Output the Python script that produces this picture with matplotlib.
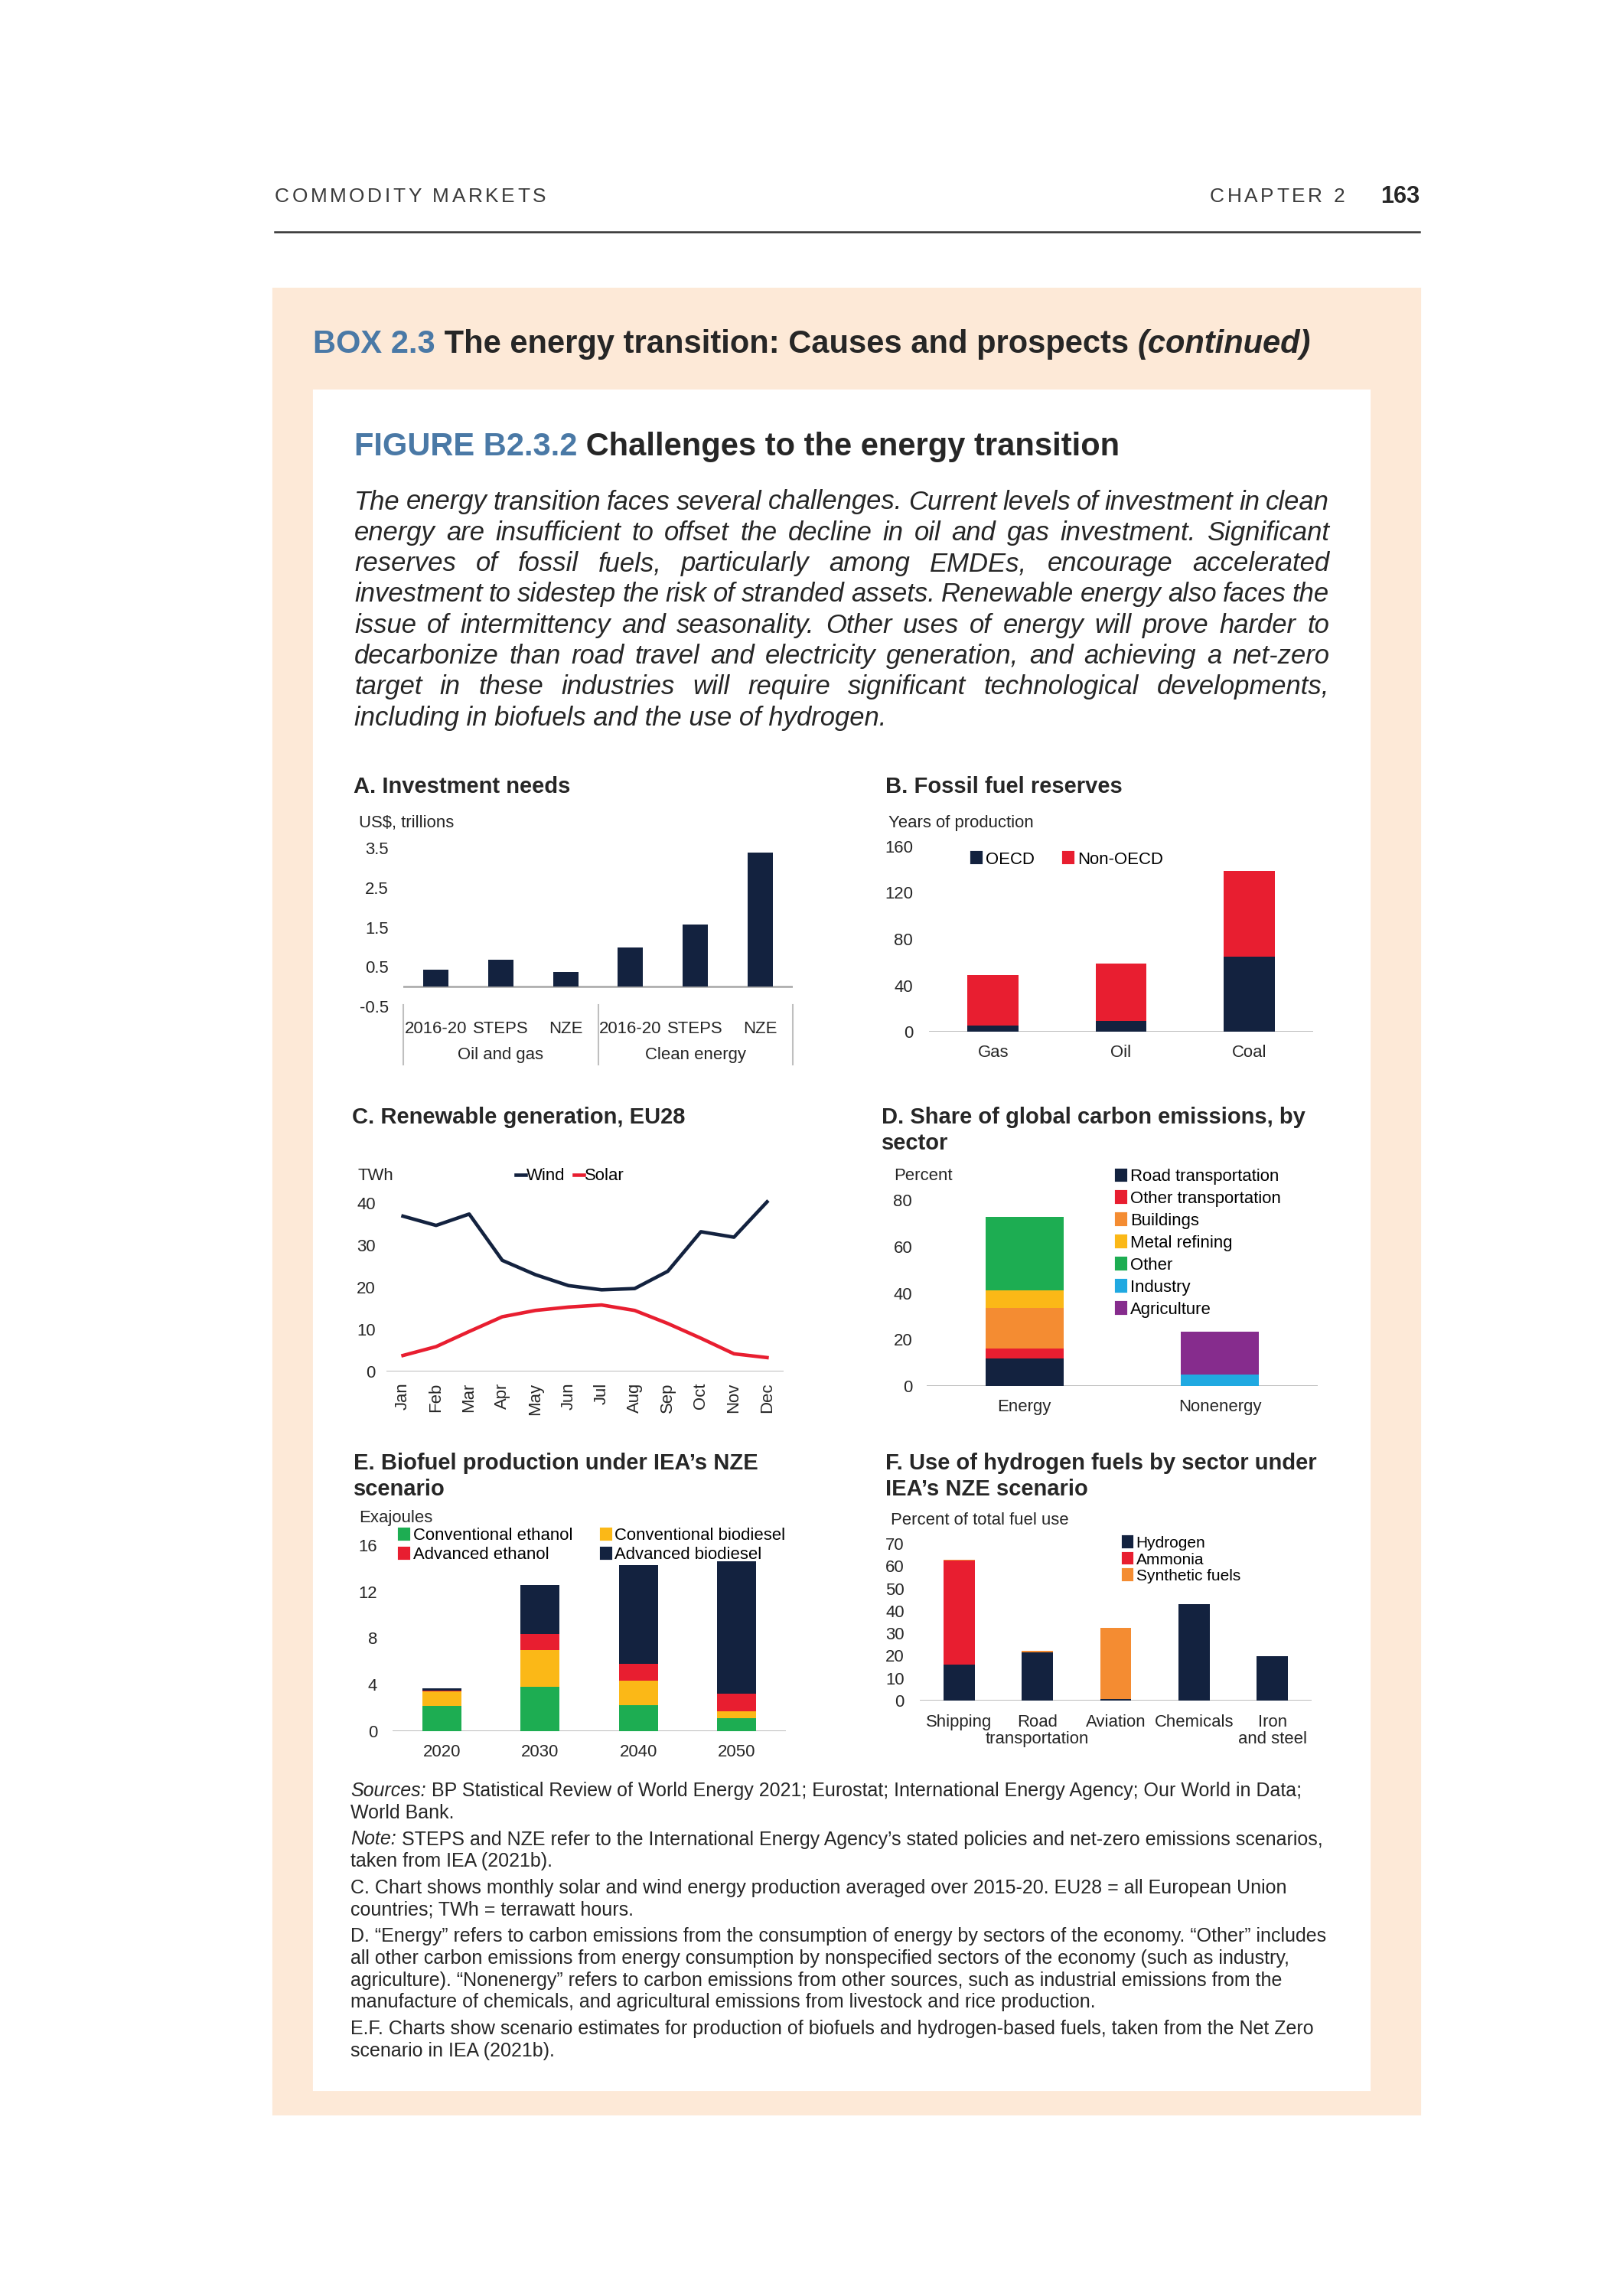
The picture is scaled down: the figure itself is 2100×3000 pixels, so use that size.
import matplotlib
matplotlib.use('Agg')
import matplotlib.pyplot as plt
from matplotlib.patches import Rectangle, Patch
from matplotlib.lines import Line2D

plt.rcParams['font.family'] = ['Liberation Sans', 'DejaVu Sans']

# ---- data ----
# A. Investment needs (US$ trillions)
inv_labels = ['2016-20', 'STEPS', 'NZE', '2016-20', 'STEPS', 'NZE']
inv_groups = ['Oil and gas', 'Clean energy']
inv_values = [0.43, 0.68, 0.37, 0.99, 1.57, 3.39]

# B. Fossil fuel reserves (years of production)
fossil_cats = ['Gas', 'Oil', 'Coal']
fossil_oecd = [5, 9, 65]
fossil_nonoecd = [44, 50, 74]

# C. Renewable generation, EU28 (TWh)
months = ['Jan', 'Feb', 'Mar', 'Apr', 'May', 'Jun', 'Jul', 'Aug', 'Sep', 'Oct', 'Nov', 'Dec']
wind = [36.9, 34.7, 37.4, 26.4, 23.0, 20.4, 19.4, 19.7, 23.8, 33.2, 31.9, 40.3]
solar = [3.8, 5.9, 9.5, 13.0, 14.5, 15.3, 15.8, 14.5, 11.4, 7.9, 4.2, 3.3]

# D. Share of global carbon emissions (percent)
emis_cats = ['Energy', 'Nonenergy']
emis_sectors = ['Road transportation', 'Other transportation', 'Buildings',
                'Metal refining', 'Other', 'Industry', 'Agriculture']
emis_values = [[11.7, 0], [4.3, 0], [17.5, 0], [7.8, 0], [31.6, 0], [0, 5.1], [0, 18.3]]

# E. Biofuel production (exajoules)
bio_years = ['2020', '2030', '2040', '2050']
bio_series = ['Conventional ethanol', 'Conventional biodiesel', 'Advanced ethanol', 'Advanced biodiesel']
bio_conv_eth = [2.2, 3.8, 2.25, 1.15]
bio_conv_die = [1.25, 3.15, 2.1, 0.55]
bio_adv_eth = [0.05, 1.4, 1.45, 1.5]
bio_adv_die = [0.2, 4.2, 8.5, 11.4]

# F. Hydrogen fuels (percent of total fuel use)
h2_cats = ['Shipping', 'Road\ntransportation', 'Aviation', 'Chemicals', 'Iron\nand steel']
h2_series = ['Hydrogen', 'Ammonia', 'Synthetic fuels']
h2_hydrogen = [16.2, 21.5, 0.8, 43.1, 19.8]
h2_ammonia = [46.3, 0, 0, 0, 0]
h2_synth = [0.3, 0.6, 31.8, 0, 0]

# ---- style ----
NAVY = '#13223F'
RED = '#E81E30'
ORANGE = '#F48C32'
YELLOW = '#FBB817'
GREEN = '#1DAD52'
CYAN = '#20A9E1'
PURPLE = '#862C8D'
BLUE_T = '#4A79A6'
TXT = '#262626'
GRID = '#A6A6A6'
TICK = 5.3
TITLE = 7.0

W, H = 2100, 3000
fig = plt.figure(figsize=(7, 10), dpi=300)
r = fig.canvas.get_renderer()


def fx(px):
    return px / W


def fy(py):
    return 1 - py / H


def add_ax(x0, x1, ytop, ybot):
    return fig.add_axes([fx(x0), fy(ybot), (x1 - x0) / W, (ybot - ytop) / H])


def style(ax, ylim, yticks, labels=None, pad=4.5):
    ax.set_ylim(*ylim)
    ax.set_yticks(yticks)
    if labels is not None:
        ax.set_yticklabels(labels)
    for s in ax.spines.values():
        s.set_visible(False)
    ax.set_facecolor('none')
    ax.tick_params(axis='both', length=0, labelsize=TICK, colors=TXT)
    ax.tick_params(axis='y', pad=pad)
    ax.axhline(0, color=GRID, lw=0.6, zorder=1)


def runs(x, y, parts, va='center'):
    for text, kw in parts:
        t = fig.text(fx(x), fy(y), text, va=va, ha='left', **kw)
        x += t.get_window_extent(r).width


def justify(x0, x1, y, line, **kw):
    words = line.split()
    ts = [fig.text(fx(x0), fy(y), w, va='center', ha='left', **kw) for w in words]
    ws = [t.get_window_extent(r).width for t in ts]
    gap = (x1 - x0 - sum(ws)) / (len(words) - 1)
    x = x0
    for t, w in zip(ts, ws):
        t.set_x(fx(x))
        x += w + gap


def tracked(x, y, s, track, **kw):
    a = fig.text(0, 0, 'nn', **kw)
    b = fig.text(0, 0, 'n n', **kw)
    sp = b.get_window_extent(r).width - a.get_window_extent(r).width
    a.remove()
    b.remove()
    for ch in s:
        if ch == ' ':
            x += sp + track
            continue
        t = fig.text(fx(x), fy(y), ch, va='center', ha='left', **kw)
        x += t.get_window_extent(r).width + track


def title(x, y, lines):
    for i, ln in enumerate(lines):
        fig.text(fx(x), fy(y + i * 34), ln, fontsize=TITLE, fontweight='bold',
                 color=TXT, va='center', ha='left')


def unit(x, y, s):
    fig.text(fx(x), fy(y), s, fontsize=TICK, color=TXT, va='center', ha='left')


# ---- page ----
tracked(359, 257, 'COMMODITY MARKETS', 3.6, fontsize=6.3, color='#3a3a3a')
tracked(1581, 257, 'CHAPTER 2', 3.6, fontsize=6.3, color='#3a3a3a')
fig.text(fx(1855), fy(257), '163', fontsize=7.4, fontweight='bold', color=TXT,
         ha='right', va='center')
fig.add_artist(Line2D([fx(359), fx(1855)], [fy(303), fy(303)], color='#333333', lw=0.6))
fig.add_artist(Rectangle((fx(358), fy(2762)), (1855 - 358) / W, (2762 - 378) / H,
                         transform=fig.transFigure, color='#FDE9D7', zorder=-2))
fig.add_artist(Rectangle((fx(411), fy(2730)), (1789 - 411) / W, (2730 - 511) / H,
                         transform=fig.transFigure, color='white', zorder=-1))

runs(409, 450, [('BOX 2.3', dict(fontsize=10.0, fontweight='bold', color=BLUE_T)),
                (' The energy transition: Causes and prospects ', dict(fontsize=10.0, fontweight='bold', color=TXT)),
                ('(continued)', dict(fontsize=10.0, fontweight='bold', style='italic', color=TXT))])
runs(463, 584, [('FIGURE B2.3.2', dict(fontsize=10.0, fontweight='bold', color=BLUE_T)),
                (' Challenges to the energy transition', dict(fontsize=10.0, fontweight='bold', color=TXT))])

caption = [
    "The energy transition faces several challenges. Current levels of investment in clean",
    "energy are insufficient to offset the decline in oil and gas investment. Significant",
    "reserves of fossil fuels, particularly among EMDEs, encourage accelerated",
    "investment to sidestep the risk of stranded assets. Renewable energy also faces the",
    "issue of intermittency and seasonality. Other uses of energy will prove harder to",
    "decarbonize than road travel and electricity generation, and achieving a net-zero",
    "target in these industries will require significant technological developments,",
    "including in biofuels and the use of hydrogen.",
]
for i, ln in enumerate(caption):
    y = 656 + i * 40.3
    if i < len(caption) - 1:
        justify(463, 1737, y, ln, fontsize=8.3, style='italic', color=TXT)
    else:
        fig.text(fx(463), fy(y), ln, fontsize=8.3, style='italic', color=TXT, va='center')

# ---- A ----
title(462, 1028, ['A. Investment needs'])
unit(469, 1075, 'US$, trillions')
ax = add_ax(527, 1036, 1108, 1315)
x = list(range(len(inv_values)))
ax.bar(x, inv_values, width=0.39, color=NAVY, zorder=2)
style(ax, (-0.5, 3.5), [-0.5, 0.5, 1.5, 2.5, 3.5],
      ['-0.5', '0.5', '1.5', '2.5', '3.5'], pad=4.6)
ax.set_xlim(-0.5, 5.5)
ax.set_xticks(x, inv_labels)
ax.tick_params(axis='x', pad=4.5)
tr = ax.get_xaxis_transform()
for i, g in enumerate(inv_groups):
    ax.text(i * 3 + 1, -0.305, g, transform=tr, ha='center', va='center',
            fontsize=TICK, color=TXT)
for xv in [-0.5, 2.5, 5.5]:
    ax.plot([xv, xv], [0.01, -0.365], transform=tr, color='#BFBFBF', lw=0.5, clip_on=False)

# ---- B ----
title(1157, 1028, ['B. Fossil fuel reserves'])
unit(1161, 1075, 'Years of production')
ax = add_ax(1214, 1716, 1106, 1348)
x = list(range(len(fossil_cats)))
ax.bar(x, fossil_oecd, width=0.4, color=NAVY, zorder=2, label='OECD')
ax.bar(x, fossil_nonoecd, bottom=fossil_oecd, width=0.4, color=RED, zorder=2, label='Non-OECD')
style(ax, (0, 160), [0, 40, 80, 120, 160], pad=5)
ax.set_xlim(-0.5, 2.5)
ax.set_xticks(x, fossil_cats)
ax.tick_params(axis='x', pad=4)
ax.legend(handles=[Patch(color=NAVY, label='OECD'), Patch(color=RED, label='Non-OECD')],
          loc='center left', bbox_to_anchor=(fx(1270), fy(1123)), bbox_transform=fig.transFigure,
          ncol=2, frameon=False, fontsize=TICK, handlelength=0.55, handleheight=0.55,
          handletextpad=0.25, columnspacing=1.75, borderpad=0, borderaxespad=0)

# ---- C ----
title(460, 1460, ['C. Renewable generation, EU28'])
unit(468, 1537, 'TWh')
ax = add_ax(505, 1024, 1572, 1792)
x = list(range(len(months)))
ax.plot(x, wind, color=NAVY, lw=1.1, zorder=3, clip_on=False, label='Wind')
ax.plot(x, solar, color=RED, lw=1.1, zorder=3, clip_on=False, label='Solar')
style(ax, (0, 40), [0, 10, 20, 30, 40], pad=3.4)
ax.set_xlim(-0.5, 11.5)
ax.set_xticks(x, months, rotation=90)
ax.tick_params(axis='x', pad=3.5)
ax.legend(loc='center left', bbox_to_anchor=(fx(674), fy(1537)), bbox_transform=fig.transFigure,
          ncol=2, frameon=False, fontsize=TICK, handlelength=0.6, handletextpad=0.05,
          columnspacing=0.5, borderpad=0, borderaxespad=0)

# ---- D ----
title(1152, 1460, ['D. Share of global carbon emissions, by', 'sector'])
unit(1168, 1537, 'Percent')
ax = add_ax(1211, 1722, 1568, 1811)
x = list(range(len(emis_cats)))
colors_d = [NAVY, RED, ORANGE, YELLOW, GREEN, CYAN, PURPLE]
bottom = [0, 0]
for name, vals, c in zip(emis_sectors, emis_values, colors_d):
    ax.bar(x, vals, bottom=bottom, width=0.4, color=c, zorder=2, label=name)
    bottom = [b + v for b, v in zip(bottom, vals)]
style(ax, (0, 80), [0, 20, 40, 60, 80], pad=4.5)
ax.set_xlim(-0.5, 1.5)
ax.set_xticks(x, emis_cats)
ax.tick_params(axis='x', pad=4)
ax.legend(handles=[Patch(color=c, label=n) for n, c in zip(emis_sectors, colors_d)],
          loc='upper left', bbox_to_anchor=(fx(1459), fy(1527)), bbox_transform=fig.transFigure,
          frameon=False, fontsize=TICK, handlelength=0.55, handleheight=0.55,
          handletextpad=0.25, labelspacing=0.36, borderpad=0, borderaxespad=0)

# ---- E ----
title(462, 1912, ['E. Biofuel production under IEA’s NZE', 'scenario'])
unit(469, 1984, 'Exajoules')
ax = add_ax(513, 1027, 2019, 2262)
x = list(range(len(bio_years)))
colors_e = [GREEN, YELLOW, RED, NAVY]
bottom = [0] * 4
for name, vals, c in zip(bio_series, [bio_conv_eth, bio_conv_die, bio_adv_eth, bio_adv_die], colors_e):
    ax.bar(x, vals, bottom=bottom, width=0.4, color=c, zorder=2, label=name)
    bottom = [b + v for b, v in zip(bottom, vals)]
style(ax, (0, 16), [0, 4, 8, 12, 16], pad=4.8)
ax.set_xlim(-0.5, 3.5)
ax.set_xticks(x, bio_years)
ax.tick_params(axis='x', pad=4)
order = [0, 2, 1, 3]
ax.legend(handles=[Patch(color=colors_e[i], label=bio_series[i]) for i in order],
          loc='upper left', bbox_to_anchor=(fx(522), fy(1996)), bbox_transform=fig.transFigure,
          ncol=2, frameon=False, fontsize=TICK, handlelength=0.55, handleheight=0.55,
          handletextpad=0.25, labelspacing=0.2, columnspacing=1.7, borderpad=0, borderaxespad=0)

# ---- F ----
title(1157, 1912, ['F. Use of hydrogen fuels by sector under', 'IEA’s NZE scenario'])
unit(1164, 1987, 'Percent of total fuel use')
ax = add_ax(1202, 1714, 2017, 2222)
x = list(range(len(h2_cats)))
colors_f = [NAVY, RED, ORANGE]
bottom = [0] * 5
for name, vals, c in zip(h2_series, [h2_hydrogen, h2_ammonia, h2_synth], colors_f):
    ax.bar(x, vals, bottom=bottom, width=0.4, color=c, zorder=2, label=name)
    bottom = [b + v for b, v in zip(bottom, vals)]
style(ax, (0, 70), list(range(0, 71, 10)), pad=4.8)
ax.set_xlim(-0.5, 4.5)
ax.set_xticks(x, h2_cats, linespacing=1.05)
ax.tick_params(axis='x', pad=4.3)
ax.legend(handles=[Patch(color=c, label=n) for n, c in zip(h2_series, colors_f)],
          loc='upper left', bbox_to_anchor=(fx(1468), fy(2007)), bbox_transform=fig.transFigure,
          frameon=False, fontsize=5.0, handlelength=0.55, handleheight=0.55,
          handletextpad=0.25, labelspacing=0.12, borderpad=0, borderaxespad=0)

# ---- notes ----
IT = dict(fontsize=6.0, style='italic', color=TXT)
NO = dict(fontsize=6.0, color=TXT)
notes = [
    [('Sources:', IT), (' BP Statistical Review of World Energy 2021; Eurostat; International Energy Agency; Our World in Data;', NO)],
    [('World Bank.', NO)],
    [('Note:', IT), (' STEPS and NZE refer to the International Energy Agency’s stated policies and net-zero emissions scenarios,', NO)],
    [('taken from IEA (2021b).', NO)],
    [('C. Chart shows monthly solar and wind energy production averaged over 2015-20. EU28 = all European Union', NO)],
    [('countries; TWh = terrawatt hours.', NO)],
    [('D. “Energy” refers to carbon emissions from the consumption of energy by sectors of the economy. “Other” includes', NO)],
    [('all other carbon emissions from energy consumption by nonspecified sectors of the economy (such as industry,', NO)],
    [('agriculture). “Nonenergy” refers to carbon emissions from other sources, such as industrial emissions from the', NO)],
    [('manufacture of chemicals, and agricultural emissions from livestock and rice production.', NO)],
    [('E.F. Charts show scenario estimates for production of biofuels and hydrogen-based fuels, taken from the Net Zero', NO)],
    [('scenario in IEA (2021b).', NO)],
]
note_y = [2340, 2368.5, 2403.5, 2432, 2467, 2495.5, 2530.5, 2559, 2587.5, 2616, 2651, 2679.5]
for parts, y in zip(notes, note_y):
    runs(458, y, parts)

fig.savefig('out.png', dpi=300)
